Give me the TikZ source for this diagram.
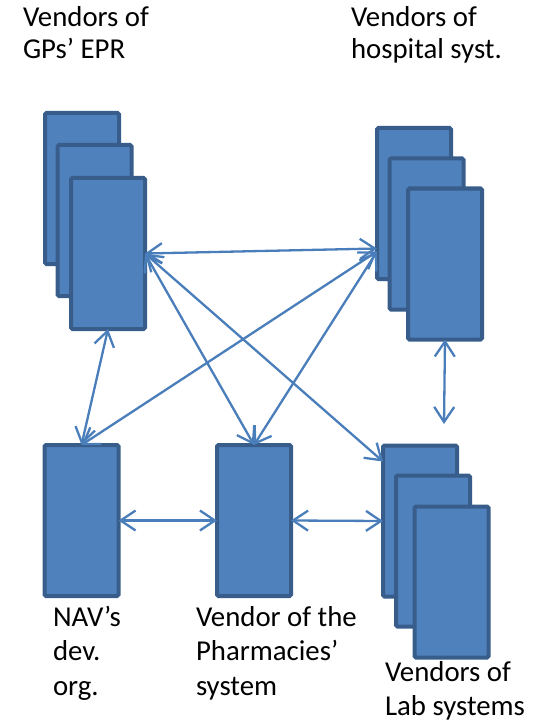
\documentclass[tikz,border=0pt]{standalone}
\usepackage{fontspec}
\setmainfont{Carlito}
\usetikzlibrary{arrows.meta}
\definecolor{boxfill}{HTML}{4F81BD}
\definecolor{boxline}{HTML}{385D8A}
\definecolor{arrowcol}{HTML}{4A7EBB}
\tikzset{
  sysbox/.style={draw=boxline, fill=boxfill, line width=4bp, rounded corners=1.5bp,
    minimum width=74bp, minimum height=151bp, inner sep=0pt, outer sep=0pt},
  link/.style={draw=arrowcol, line width=2.3bp,
    {Straight Barb[length=15bp,width=20bp]}-{Straight Barb[length=15bp,width=20bp]}},
  lbl/.style={anchor=base west, inner sep=0pt, outer sep=0pt,
    font=\fontsize{28.8bp}{32bp}\selectfont}
}
\begin{document}
\begin{tikzpicture}[x=1bp,y=-1bp]
\useasboundingbox (0,0) rectangle (545,724);
% GP stack
\node[sysbox] (gp1) at (82,188.5) {};
\node[sysbox] (gp2) at (94.5,220.5) {};
\node[sysbox] (gp3) at (108,253.5) {};
% hospital stack
\node[sysbox] (h1) at (414,203.5) {};
\node[sysbox] (h2) at (426.5,234) {};
\node[sysbox] (h3) at (445,264) {};
% bottom
\node[sysbox] (nav) at (81.5,520.5) {};
\node[sysbox] (ph) at (254,520.5) {};
\node[sysbox] (l1) at (420,521) {};
\node[sysbox] (l2) at (433,551) {};
\node[sysbox] (l3) at (451.5,582) {};
% connection points
\coordinate (hin) at ([yshift=-48bp]h1.west);
\coordinate (lin) at ([yshift=-16bp]l1.north west);
\coordinate (lt) at (444,424);
% arrows
\draw[link] (gp3.east) -- ([yshift=-45bp]h1.west);
\draw[link] (gp3.east) -- (ph.north);
\draw[link] (gp3.east) -- (lin);
\draw[link] (hin) -- (nav.north);
\draw[link] (hin) -- (ph.north);
\draw[link] (gp3.south) -- (nav.north);
\draw[link] (h3.south) -- (lt);
\draw[link] (nav.east) -- (ph.west);
\draw[link] (ph.east) -- (l1.west);
% labels
\node[lbl] (t1a) at (23,26.5) {Vendors of};
\node[lbl] (t1b) at (23,58.5) {GPs’ EPR};
\node[lbl] (t2a) at (351,26.5) {Vendors of};
\node[lbl] (t2b) at (351,58.5) {hospital syst.};
\node[lbl] (t3a) at (53,626) {NAV’s};
\node[lbl] (t3b) at (53,660.5) {dev.};
\node[lbl] (t3c) at (53,695) {org.};
\node[lbl] (t4a) at (196,626) {Vendor of the};
\node[lbl] (t4b) at (196,660.5) {Pharmacies’};
\node[lbl] (t4c) at (196,695) {system};
\node[lbl] (t5a) at (385,681) {Vendors of};
\node[lbl] (t5b) at (385,715) {Lab systems};
\end{tikzpicture}
\end{document}
